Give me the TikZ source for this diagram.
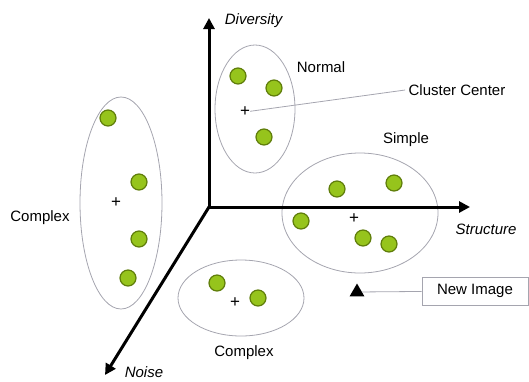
\documentclass[tikz,border=0pt]{standalone}
\usepackage{fontspec}
\setmainfont{Liberation Sans}
\usetikzlibrary{shapes.geometric,arrows.meta}
\definecolor{dotgreen}{RGB}{150,196,28}
\definecolor{dotrim}{RGB}{95,125,10}
\definecolor{rimgray}{RGB}{165,165,175}
\begin{document}
\begin{tikzpicture}[x=1pt, y=-1pt, font=\fontsize{15}{18}\selectfont,
  dot/.style={circle, draw=dotrim, line width=1.2pt, fill=dotgreen, minimum size=16pt, inner sep=0pt},
  blob/.style={ellipse, draw=rimgray, line width=0.8pt, inner sep=0pt},
  ctr/.style={inner sep=0pt, font=\fontsize{17}{17}\selectfont},
  axis/.style={line width=3pt, -{Triangle[length=11pt,width=11pt]}}]
  \useasboundingbox (0,0) rectangle (529,381);

  % クラスタ (楕円)
  \node[blob, minimum width=82pt, minimum height=212pt] (cl) at (121,203) {};
  \node[blob, minimum width=80pt, minimum height=128pt] (cn) at (255,109) {};
  \node[blob, minimum width=156pt, minimum height=120pt] (cs) at (360,213) {};
  \node[blob, minimum width=126pt, minimum height=76pt] (cb) at (241,298) {};

  % 軸
  \coordinate (O) at (209,207);
  \coordinate (Oy) at (209,18);
  \coordinate (Ox) at (470,207);
  \coordinate (Oz) at (105,375);
  \draw[axis] (O) -- (Oy);
  \draw[axis] (O) -- (Ox);
  \draw[axis] (O) -- (Oz);
  \node (div) at (254,21) {\textit{Diversity}};
  \node (str) at (486,229) {\textit{Structure}};
  \node (noi) at (144,372) {\textit{Noise}};

  % 左のクラスタ
  \node[dot] (l1) at (108,118) {};
  \node[dot] (l2) at (139,182) {};
  \node[dot] (l3) at (139,239) {};
  \node[dot] (l4) at (128,278) {};
  \node[ctr] (lc) at (116,203) {+};

  % 上のクラスタ
  \node[dot] (n1) at (238,76) {};
  \node[dot] (n2) at (274,88) {};
  \node[dot] (n3) at (264,137) {};
  \node[ctr] (nc) at (245,112) {+};

  % 右のクラスタ
  \node[dot] (s1) at (337,189) {};
  \node[dot] (s2) at (394,183) {};
  \node[dot] (s3) at (301,221) {};
  \node[dot] (s4) at (363,238) {};
  \node[dot] (s5) at (389,244) {};
  \node[ctr] (sc) at (354,219) {+};

  % 下のクラスタ
  \node[dot] (b1) at (217,283) {};
  \node[dot] (b2) at (258,298) {};
  \node[ctr] (bc) at (235,303) {+};

  % ラベル
  \node (lab1) at (40,218) {Complex};
  \node (lab2) at (321,67) {Normal};
  \node (lab3) at (406,140) {Simple};
  \node (lab4) at (244,353) {Complex};
  \node (cc) at (457,90) {Cluster Center};
  \draw[rimgray, line width=0.8pt] (nc) -- (cc.west);

  % 新しい画像
  \node[regular polygon, regular polygon sides=3, fill=black, minimum size=17pt, inner sep=0pt] (ni) at (357,292) {};
  \node[draw=rimgray, line width=0.8pt, minimum width=106pt, minimum height=28pt] (nb) at (475,291) {New Image};
  \draw[rimgray, line width=0.8pt] (ni) -- (nb);
\end{tikzpicture}
\end{document}
